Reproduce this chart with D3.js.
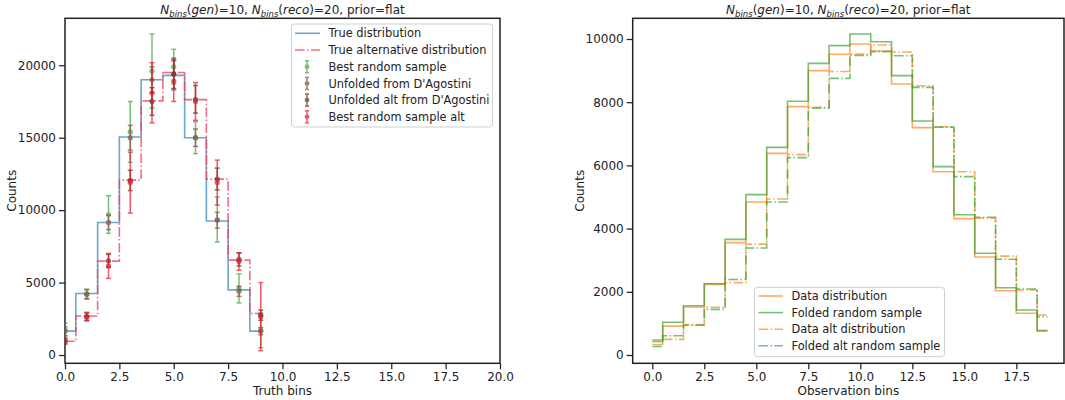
<!DOCTYPE html>
<html><head><meta charset="utf-8">
<script src="https://cdn.jsdelivr.net/npm/d3@7"></script>
<style>body{margin:0;background:#fff}svg{display:block;font-family:"DejaVu Sans",sans-serif}</style>
</head><body><svg id="c" width="1065" height="400"></svg>
<script>
// ---------- data ----------
const truthBins = [0,1,2,3,4,5,6,7,8,9];
const trueDist   = [1650, 4250, 9150, 15050, 19000, 19300, 15000, 9250, 4500, 1650];
const trueAltDist= [950, 2690, 6480, 12070, 17540, 19500, 17630, 12140, 6550, 2870];
const bestRandom     = [1750, 4200, 9700, 15400, 19600, 19900, 15000, 9350, 4600, 1700];
const bestRandomErr  = [450, 350, 1300, 2100, 2550, 1200, 1100, 1550, 1000, 1200];
const unfolded       = [1650, 4200, 9150, 15000, 19000, 19400, 15000, 9300, 4400, 1650];
const unfoldedErr    = [300, 300, 500, 850, 900, 1100, 600, 550, 350, 250];
const unfoldedAlt    = [950, 2650, 6500, 12050, 17500, 19400, 17650, 12150, 6600, 2750];
const unfoldedAltErr = [200, 250, 450, 700, 950, 1000, 950, 750, 450, 350];
const bestRandomAlt    = [980, 2650, 6150, 11900, 18100, 18900, 17500, 11900, 6450, 2650];
const bestRandomAltErr = [150, 300, 860, 2100, 2075, 1400, 1300, 1550, 600, 2350];

const obsBins = d3.range(20);
const dataDist    = [480, 915, 1520, 2235, 3555, 4840, 6380, 7860, 9000, 9515, 9840, 9620, 8575, 7195, 5800, 4315, 3100, 2035, 1320, 780];
const foldedRand  = [430, 1035, 1560, 2255, 3660, 5075, 6570, 8030, 9230, 9790, 10160, 9915, 8840, 7405, 5960, 4440, 3220, 2130, 1425, 760];
const dataAltDist = [330, 495, 960, 1510, 2290, 3510, 4935, 6340, 7840, 8970, 9520, 9810, 9590, 8520, 7225, 5800, 4325, 3130, 2055, 1265];
const foldedAlt   = [270, 610, 940, 1445, 2390, 3385, 4840, 6245, 7810, 8755, 9480, 9600, 9470, 8470, 7210, 5645, 4360, 3030, 2090, 1210];

const leftXTicks = [0,2.5,5,7.5,10,12.5,15,17.5,20];
const leftYTicks = [0,5000,10000,15000,20000];
const rightXTicks = [0,2.5,5,7.5,10,12.5,15,17.5];
const rightYTicks = [0,2000,4000,6000,8000,10000];

// ---------- helpers ----------
const svg = d3.select("#c");
const FS = 12, LFS = 11.4;
const DASHDOT = "9.6,2.4,1.5,2.4";

function axesFrame(g, x, y, xt, yt, xlab, id) {
  const [x0,x1] = x.range(), [y0,y1] = y.range();
  g.append("clipPath").attr("id", id).append("rect")
    .attr("x", x0).attr("y", y1).attr("width", x1-x0).attr("height", y0-y1);
  const ax = g.append("g").attr("transform", `translate(0,${y0})`)
    .call(d3.axisBottom(x).tickValues(xt).tickFormat(d3.format(".1f")).tickSize(6).tickPadding(3));
  const ay = g.append("g").attr("transform", `translate(${x0},0)`)
    .call(d3.axisLeft(y).tickValues(yt).tickFormat(d3.format("d")).tickSize(6).tickPadding(3));
  [ax, ay].forEach(a => {
    a.select(".domain").remove();
    a.selectAll("line").attr("stroke", "#222").attr("stroke-width", 1.25);
    a.selectAll("text").attr("font-size", FS).attr("fill", "#222").attr("font-family", "DejaVu Sans");
  });
  g.append("rect").attr("x", x0).attr("y", y1).attr("width", x1-x0).attr("height", y0-y1)
    .attr("fill", "none").attr("stroke", "#222").attr("stroke-width", 1.5);
  g.append("text").attr("x", (x0+x1)/2).attr("y", 395).attr("text-anchor", "middle")
    .attr("font-size", FS).attr("fill", "#222").text(xlab);
  const ly = (y0+y1)/2;
  g.append("text").attr("transform", `translate(${x0-49},${ly}) rotate(-90)`).attr("text-anchor", "middle")
    .attr("font-size", FS).attr("fill", "#222").text("Counts");
  // title
  const t = g.append("text").attr("x", (x0+x1)/2).attr("y", 14).attr("text-anchor", "middle")
    .attr("font-size", FS).attr("fill", "#222");
  const parts = [["N","i"],["bins","s"],["(",""],["gen","i"],[")=10, ",""],["N","i"],["bins","s"],["(",""],["reco","i"],[")=20, prior=flat",""]];
  let prevSub = false;
  parts.forEach(([s,k]) => {
    const ts = t.append("tspan").text(s);
    if (k === "i" || k === "s") ts.attr("font-style", "italic");
    if (k === "s") { ts.attr("font-size", 8.5).attr("dy", 3); prevSub = true; }
    else if (prevSub) { ts.attr("dy", -3); prevSub = false; }
  });
}

function stepLine(g, x, y, xs, ys, color, width, dash, op, clip) {
  const line = d3.line().x((d,i) => x(xs[i])).y(d => y(d)).curve(d3.curveStep);
  g.append("path").attr("d", line(ys)).attr("fill", "none").attr("stroke", color)
    .attr("stroke-width", width).attr("stroke-opacity", op)
    .attr("stroke-dasharray", dash || null).attr("clip-path", `url(#${clip})`);
}

function errBars(g, x, y, xs, vals, errs, color, op, clip) {
  const gg = g.append("g").attr("clip-path", `url(#${clip})`).attr("opacity", op);
  xs.forEach((xv, i) => {
    const cx = x(xv), top = y(vals[i] + errs[i]), bot = y(vals[i] - errs[i]);
    gg.append("line").attr("x1", cx).attr("x2", cx).attr("y1", top).attr("y2", bot)
      .attr("stroke", color).attr("stroke-width", 1.5);
    [top, bot].forEach(yy => gg.append("line").attr("x1", cx-2.5).attr("x2", cx+2.5)
      .attr("y1", yy).attr("y2", yy).attr("stroke", color).attr("stroke-width", 1.5));
    gg.append("circle").attr("cx", cx).attr("cy", y(vals[i])).attr("r", 2.6).attr("fill", color);
  });
}

function legendBox(g, x0, y0, w, h) {
  g.append("rect").attr("x", x0).attr("y", y0).attr("width", w).attr("height", h)
    .attr("rx", 3).attr("fill", "#fff").attr("fill-opacity", 0.8)
    .attr("stroke", "#d0d0d0").attr("stroke-width", 1);
}

// ---------- left chart ----------
const xL = d3.scaleLinear().domain([0, 20]).range([65, 500]);
const yL = d3.scaleLinear().domain([-570, 23240]).range([363.3, 18.3]);
const gL = svg.append("g");
axesFrame(gL, xL, yL, leftXTicks, leftYTicks, "Truth bins", "clipL");

const cBlue = "#1f77b4", cRed = "#f03c5a", cGreen = "#2ca02c", cBrown = "#8c564b", cBrown2 = "#5e3c28", cRed2 = "#e8112d";
stepLine(gL, xL, yL, truthBins, trueDist, cBlue, 1.6, null, 0.65, "clipL");
stepLine(gL, xL, yL, truthBins, trueAltDist, cRed, 1.6, DASHDOT, 0.75, "clipL");
errBars(gL, xL, yL, truthBins, bestRandom, bestRandomErr, cGreen, 0.65, "clipL");
errBars(gL, xL, yL, truthBins, unfolded, unfoldedErr, cBrown, 0.75, "clipL");
errBars(gL, xL, yL, truthBins, unfoldedAlt, unfoldedAltErr, cBrown2, 0.75, "clipL");
errBars(gL, xL, yL, truthBins, bestRandomAlt, bestRandomAltErr, cRed2, 0.7, "clipL");

legendBox(gL, 291.5, 24, 201, 103);
const legL = [
  {t:"True distribution", type:"line", c:cBlue, op:0.65},
  {t:"True alternative distribution", type:"dash", c:cRed, op:0.75},
  {t:"Best random sample", type:"err", c:cGreen, op:0.65},
  {t:"Unfolded from D'Agostini", type:"err", c:cBrown, op:0.75},
  {t:"Unfolded alt from D'Agostini", type:"err", c:cBrown2, op:0.75},
  {t:"Best random sample alt", type:"err", c:cRed2, op:0.7}
];
legL.forEach((d, i) => {
  const yy = 33.3 + i*16.7;
  if (d.type === "err") {
    const gg = gL.append("g").attr("opacity", d.op);
    gg.append("line").attr("x1", 307).attr("x2", 307).attr("y1", yy-6).attr("y2", yy+6).attr("stroke", d.c).attr("stroke-width", 1.5);
    [yy-6, yy+6].forEach(v => gg.append("line").attr("x1", 305).attr("x2", 309).attr("y1", v).attr("y2", v).attr("stroke", d.c).attr("stroke-width", 1.5));
    gg.append("circle").attr("cx", 307).attr("cy", yy).attr("r", 2.4).attr("fill", d.c);
  } else {
    gL.append("line").attr("x1", 295).attr("x2", 320).attr("y1", yy).attr("y2", yy)
      .attr("stroke", d.c).attr("stroke-width", 1.6).attr("stroke-opacity", d.op)
      .attr("stroke-dasharray", d.type === "dash" ? DASHDOT : null);
  }
  gL.append("text").attr("x", 328.5).attr("y", yy + 4.1).attr("font-size", LFS).attr("fill", "#222").text(d.t);
});

// ---------- right chart ----------
const xR = d3.scaleLinear().domain([-0.942, 19.79]).range([632.7, 1064]);
const yR = d3.scaleLinear().domain([-263, 10655]).range([363.3, 18.3]);
const gR = svg.append("g");
axesFrame(gR, xR, yR, rightXTicks, rightYTicks, "Observation bins", "clipR");

const cOrange = "#ff7f0e";
stepLine(gR, xR, yR, obsBins, dataDist, cOrange, 1.6, null, 0.65, "clipR");
stepLine(gR, xR, yR, obsBins, foldedRand, cGreen, 1.6, null, 0.65, "clipR");
stepLine(gR, xR, yR, obsBins, dataAltDist, cOrange, 1.6, DASHDOT, 0.65, "clipR");
stepLine(gR, xR, yR, obsBins, foldedAlt, cGreen, 1.6, DASHDOT, 0.65, "clipR");

legendBox(gR, 754.5, 287.3, 190, 69.4);
const legR = [
  {t:"Data distribution", c:cOrange, dash:false},
  {t:"Folded random sample", c:cGreen, dash:false},
  {t:"Data alt distribution", c:cOrange, dash:true},
  {t:"Folded alt random sample", c:cGreen, dash:true}
];
legR.forEach((d, i) => {
  const yy = 296 + i*16.6;
  gR.append("line").attr("x1", 758.5).attr("x2", 783).attr("y1", yy).attr("y2", yy)
    .attr("stroke", d.c).attr("stroke-width", 1.6).attr("stroke-opacity", 0.65)
    .attr("stroke-dasharray", d.dash ? DASHDOT : null);
  gR.append("text").attr("x", 791.5).attr("y", yy + 4.1).attr("font-size", LFS).attr("fill", "#222").text(d.t);
});
</script></body></html>
